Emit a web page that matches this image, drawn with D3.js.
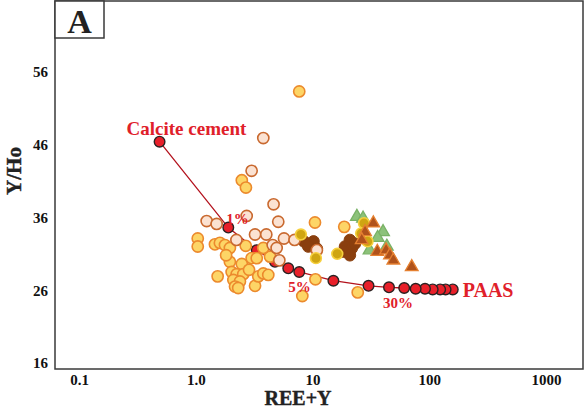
<!DOCTYPE html>
<html>
<head>
<meta charset="utf-8">
<script src="https://cdn.jsdelivr.net/npm/d3@7"></script>
<style>
  html, body { margin: 0; padding: 0; background: #fff; }
  svg { display: block; }
  text { font-family: "Liberation Serif", "Times New Roman", serif; font-weight: bold; }
</style>
</head>
<body>
<svg id="chart" width="584" height="412"></svg>
<script>
// Axis ticks
const xTickValues = [0.1, 1, 10, 100, 1000];
const xTickLabels = ["0.1", "1.0", "10", "100", "1000"];
const yTickValues = [16, 26, 36, 46, 56];

// Mixing line: calcite cement (0 %) towards PAAS (100 %)
const mixPct = [0, 1, 2, 3, 4, 5, 10, 20, 30, 40, 50, 60, 70, 80, 90, 100];
const mixX   = [0.49, 1.9, 3.33, 4.77, 6.2, 7.7, 15.1, 30.2, 45.2, 61, 76.5, 92, 107, 124, 138, 159];
const mixY   = [46.4, 34.6, 31.5, 29.9, 29.0, 28.5, 27.3, 26.6, 26.4, 26.3, 26.2, 26.2, 26.1, 26.1, 26.1, 26.1];

// Sample groups: [REE+Y, Y/Ho]
const yellowX = [7.7, 2.48, 2.69, 1.04, 1.04, 1.46, 1.61, 1.78, 1.96, 2.68, 1.96, 2.48, 3.01, 3.33, 2.03, 2.24, 2.55, 2.10, 2.39, 2.17, 2.31, 1.54, 3.22, 3.43, 3.79, 4.18, 10.5, 18.7, 4.33, 3.79, 10.6, 8.18, 24.4, 1.82, 2.86];
const yellowY = [53.3, 41.1, 40.1, 33.1, 32.0, 32.3, 32.5, 32.2, 31.8, 32.1, 29.9, 29.6, 30.4, 30.4, 28.5, 28.2, 28.2, 27.4, 27.2, 26.5, 26.3, 27.9, 26.6, 27.9, 28.3, 28.1, 35.3, 34.7, 30.6, 31.8, 27.5, 25.2, 25.7, 30.8, 28.8];

const brownX = [8.45, 10.2, 9.2, 10.9, 20.9, 19.0, 21.7, 18.4, 20.9, 23.1];
const brownY = [32.7, 32.7, 32.0, 31.7, 32.9, 32.0, 31.75, 31.3, 30.8, 32.4];

const peachX = [3.79, 3.01, 4.64, 1.24, 1.51, 2.73, 5.09, 3.22, 4.02, 2.23, 5.70, 7.02, 4.56, 4.93, 5.20, 10.9];
const peachY = [46.9, 42.4, 37.8, 35.5, 35.1, 36.2, 35.4, 33.65, 33.65, 32.9, 33.1, 32.9, 32.2, 31.8, 30.1, 31.5];

const greenTriX = [24.0, 27.1, 40.2, 36.1, 30.8, 43.3];
const greenTriY = [36.1, 35.85, 34.0, 33.2, 31.5, 32.0];

const mustardX = [7.96, 10.7, 16.3, 27.6, 26.1, 29.6];
const mustardY = [33.65, 30.4, 31.0, 35.2, 33.8, 32.7];

const brownTriX = [33.2, 28.2, 26.4, 35.9, 42.7, 46.1, 49.3, 70.8];
const brownTriY = [35.2, 34.0, 32.9, 31.3, 31.5, 30.8, 30.1, 29.2];

// Labels placed along the mixing line
const mixLabels = [
  { text: "Calcite cement", pct: 0,   dx: -33, dy: -7,  size: 19 },
  { text: "1%",             pct: 1,   dx: -2,  dy: -4,  size: 15 },
  { text: "5%",             pct: 5,   dx: -11, dy: 20,  size: 15 },
  { text: "30%",            pct: 30,  dx: -6,  dy: 21,  size: 15 },
  { text: "PAAS",           pct: 100, dx: 10,  dy: 8,   size: 20 }
];

const svg = d3.select("#chart");
const frame = { left: 55, top: 1, right: 583, bottom: 369 };

const x = d3.scaleLog().domain([0.1, 1000]).range([79, 546]);
const y = d3.scaleLinear().domain([16, 56]).range([363, 71.8]);

const zip = (xs, ys) => xs.map((v, i) => [v, ys[i]]);

// Mixing line and its points
const mix = zip(mixX, mixY);
svg.append("path")
  .datum(mix)
  .attr("fill", "none")
  .attr("stroke", "#b3121d")
  .attr("stroke-width", 1.3)
  .attr("d", d3.line().x(d => x(d[0])).y(d => y(d[1])));

svg.append("g").selectAll("circle")
  .data(mix.slice().reverse())
  .join("circle")
  .attr("cx", d => x(d[0]))
  .attr("cy", d => y(d[1]))
  .attr("r", 5.3)
  .attr("fill", "#e8202a")
  .attr("stroke", "#2a2222")
  .attr("stroke-width", 1.4);

function circles(xs, ys, fill, stroke, r, sw) {
  svg.append("g").selectAll("circle")
    .data(zip(xs, ys))
    .join("circle")
    .attr("cx", d => x(d[0]))
    .attr("cy", d => y(d[1]))
    .attr("r", r)
    .attr("fill", fill)
    .attr("stroke", stroke)
    .attr("stroke-width", sw);
}

function triangles(xs, ys, fill, stroke) {
  const sym = d3.symbol().type(d3.symbolTriangle).size(70);
  svg.append("g").selectAll("path")
    .data(zip(xs, ys))
    .join("path")
    .attr("transform", d => `translate(${x(d[0])},${y(d[1])})`)
    .attr("d", sym)
    .attr("fill", fill)
    .attr("stroke", stroke)
    .attr("stroke-width", 1.3);
}

circles(yellowX, yellowY, "#fdd566", "#ec8a2d", 5.6, 1.6);
circles(brownX, brownY, "#8a3f0e", "#8a3f0e", 5.8, 1);
circles(peachX, peachY, "#fbe2d2", "#c9692f", 5.6, 1.6);
triangles(greenTriX, greenTriY, "#8cc27a", "#79b266");
circles(mustardX, mustardY, "#cfa512", "#f6d03e", 5.4, 1.6);
triangles(brownTriX, brownTriY, "#b0521b", "#e58030");

// Mixing line labels
svg.append("g").selectAll("text")
  .data(mixLabels)
  .join("text")
  .attr("x", d => x(mixX[mixPct.indexOf(d.pct)]) + d.dx)
  .attr("y", d => y(mixY[mixPct.indexOf(d.pct)]) + d.dy)
  .attr("font-size", d => d.size)
  .attr("fill", "#e0202a")
  .text(d => d.text);

// Frame
svg.append("rect")
  .attr("x", frame.left).attr("y", frame.top)
  .attr("width", frame.right - frame.left)
  .attr("height", frame.bottom - frame.top)
  .attr("fill", "none")
  .attr("stroke", "#3a3a3a")
  .attr("stroke-width", 1.5);

// Panel letter
svg.append("rect")
  .attr("x", frame.left).attr("y", frame.top)
  .attr("width", 49).attr("height", 37)
  .attr("fill", "#fff")
  .attr("stroke", "#3a3a3a")
  .attr("stroke-width", 1.5);
svg.append("text")
  .attr("x", frame.left + 24.5).attr("y", 33)
  .attr("text-anchor", "middle")
  .attr("font-size", 34)
  .attr("fill", "#222")
  .text("A");

// Axes (labels only)
const xAxis = d3.axisBottom(x)
  .tickValues(xTickValues)
  .tickSize(0)
  .tickPadding(0)
  .tickFormat((d, i) => xTickLabels[i]);
const gx = svg.append("g").attr("transform", "translate(0,385)").call(xAxis);
gx.select(".domain").remove();
gx.selectAll("text")
  .attr("font-family", "'Liberation Serif', serif")
  .attr("font-weight", "bold")
  .attr("font-size", 15)
  .attr("fill", "#111")
  .attr("dy", "0");

const yAxis = d3.axisLeft(y)
  .tickValues(yTickValues)
  .tickSize(0)
  .tickPadding(0)
  .tickFormat(d3.format("d"));
const gy = svg.append("g").attr("transform", "translate(48,0)").call(yAxis);
gy.select(".domain").remove();
gy.selectAll("text")
  .attr("font-family", "'Liberation Serif', serif")
  .attr("font-weight", "bold")
  .attr("font-size", 15)
  .attr("fill", "#111");

// Axis titles
svg.append("text")
  .attr("x", 298).attr("y", 405)
  .attr("text-anchor", "middle")
  .attr("font-size", 20)
  .attr("fill", "#222")
  .attr("stroke", "#222")
  .attr("stroke-width", 0.4)
  .text("REE+Y");

svg.append("text")
  .attr("transform", "translate(21,171) rotate(-90)")
  .attr("text-anchor", "middle")
  .attr("font-size", 21)
  .attr("fill", "#222")
  .attr("stroke", "#222")
  .attr("stroke-width", 0.4)
  .text("Y/Ho");
</script>
</body>
</html>
